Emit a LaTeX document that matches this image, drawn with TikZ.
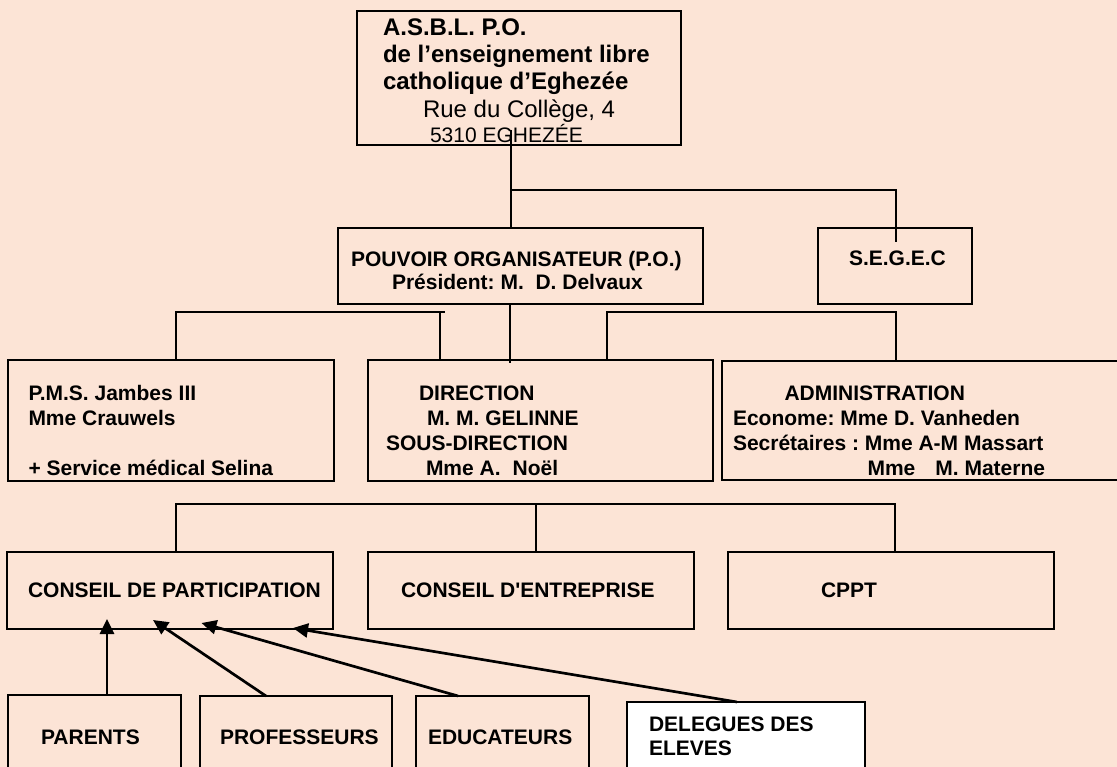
\documentclass[tikz,border=0pt]{standalone}
\usepackage{fontspec}
\setmainfont{Liberation Sans}
\usetikzlibrary{arrows.meta}
\definecolor{bgpeach}{RGB}{252,228,214}
\newcommand{\straightapos}{\XeTeXglyph\XeTeXcharglyph"0027\relax}
\tikzset{
  box/.style={draw=black, line width=1.8pt, inner sep=0pt, outer sep=0pt},
  conn/.style={draw=black, line width=1.6pt},
  arr/.style={draw=black, line width=2.7pt, -{Triangle[length=15pt,width=14pt]}},
  txt/.style={anchor=base west, inner sep=0pt, outer sep=0pt,
    font=\fontsize{21}{25}\selectfont\bfseries\frenchspacing},
  bigb/.style={txt, font=\fontsize{24}{28}\selectfont\bfseries\frenchspacing},
  bigr/.style={txt, font=\fontsize{24}{28}\selectfont\frenchspacing},
  medr/.style={txt, font=\fontsize{21}{25}\selectfont\frenchspacing},
}
\begin{document}
\begin{tikzpicture}[x=1pt,y=-1pt]
\useasboundingbox (0,0) rectangle (1117,767);
\clip (0,0) rectangle (1117,767);
\fill[bgpeach] (-5,-5) rectangle (1125,775);

% boxes
\node[box, minimum width=324, minimum height=134] (asbl) at (519,78) {};
\node[box, minimum width=365, minimum height=76] (po) at (520.5,266) {};
\node[box, minimum width=154, minimum height=76] (segec) at (895,266) {};
\node[box, minimum width=326, minimum height=121] (pms) at (171,420.5) {};
\node[box, minimum width=345, minimum height=121] (dir) at (540.5,420.5) {};
\node[box, minimum width=418, minimum height=119] (admin) at (931,420.5) {};
\node[box, minimum width=326, minimum height=77] (cdp) at (170,590.5) {};
\node[box, minimum width=326, minimum height=77] (cde) at (531,590.5) {};
\node[box, minimum width=326, minimum height=77] (cppt) at (891,590.5) {};
\node[box, minimum width=173, minimum height=95] (parents) at (94.5,742.5) {};
\node[box, minimum width=192, minimum height=94] (prof) at (296,743) {};
\node[box, minimum width=173, minimum height=94] (educ) at (502.5,743) {};
\node[box, fill=white, minimum width=238, minimum height=88] (deleg) at (746,746) {};

% texts
\node[bigb] (a1) at (383,36) {A.S.B.L. P.O.};
\node[bigb] (a2) at (383,63) {de l’enseignement libre};
\node[bigb] (a3) at (383,90) {catholique d’Eghezée};
\node[bigr] (a4) at (423,118) {Rue du Collège, 4};
\node[medr] (a5) at (430,143) {5310 EGHEZÉE};

\node[txt] (p1) at (351,266.5) {POUVOIR ORGANISATEUR (P.O.)};
\node[txt] (p2) at (392,290) {Président: M.\hspace{11.7pt}D. Delvaux};
\node[txt] (s1) at (849,266) {S.E.G.E.C};

\node[txt] (m1) at (28.5,400.5) {P.M.S. Jambes III};
\node[txt] (m2) at (28.5,425.5) {Mme Crauwels};
\node[txt] (m3) at (28.5,475.5) {+ Service médical Selina};

\node[txt] (d1) at (419,400.5) {DIRECTION};
\node[txt] (d2) at (427,425.5) {M. M. GELINNE};
\node[txt] (d3) at (386,450.5) {SOUS-DIRECTION};
\node[txt] (d4) at (426,475.5) {Mme A.\hspace{12pt}Noël};

\node[txt] (ad1) at (784.5,400.5) {ADMINISTRATION};
\node[txt] (ad2) at (733,425.5) {Econome: Mme D. Vanheden};
\node[txt] (ad3) at (733,450.5) {Secrétaires : Mme A-M Massart};
\node[txt] (ad4) at (867.5,475.5) {Mme\hspace{20pt}M. Materne};

\node[txt] (c1) at (28,597) {CONSEIL DE PARTICIPATION};
\node[txt] (c2) at (401,597) {CONSEIL D\straightapos ENTREPRISE};
\node[txt] (c3) at (821,597) {CPPT};

\node[txt] (b1) at (41,744) {PARENTS};
\node[txt] (b2) at (220,744) {PROFESSEURS};
\node[txt] (b3) at (428,744) {EDUCATEURS};
\node[txt] (b4) at (649,731.5) {DELEGUES DES};
\node[txt] (b5) at (649,755.5) {ELEVES};

% connectors level 1
\coordinate (j1) at (511,190);
\coordinate (j2) at (896,190);
\draw[conn] ([yshift=15pt]asbl.south -| j1) -- (j1 |- po.north);
\draw[conn] (j1) -- (j2) -- ([yshift=-14pt]j2 |- segec.north);

% connectors level 2
\coordinate (l1) at (176,312);
\coordinate (l2) at (440,312);
\coordinate (l3) at (445,312);
\coordinate (r1) at (607,312);
\coordinate (r2) at (896,312);
\coordinate (q1) at (510,304);
\draw[conn] (pms.north -| l1) -- (l1) -- (l3);
\draw[conn] (l2) -- (l2 |- dir.north);
\draw[conn] (dir.north -| r1) -- (r1) -- (r2) -- (r2 |- admin.north);
\draw[conn] (po.south -| q1) -- ([yshift=-3pt]q1 |- dir.north);

% connectors level 3
\coordinate (n1) at (176,504);
\coordinate (n2) at (536,504);
\coordinate (n3) at (895,504);
\draw[conn] (cdp.north -| n1) -- (n1) -- (n3) -- (n3 |- cppt.north);
\draw[conn] (n2) -- (n2 |- cde.north);

% arrows
\coordinate (t1) at (107,619);
\coordinate (t2) at (153,620);
\coordinate (t3) at (201.5,623);
\coordinate (t4) at (293,628);
\coordinate (u2) at (266,697);
\coordinate (u3) at (458,696);
\coordinate (u4) at (737,702);
\draw[arr] (parents.north -| t1) -- (t1);
\draw[arr] (prof.north -| u2) -- (t2);
\draw[arr] (educ.north -| u3) -- (t3);
\draw[arr] (deleg.north -| u4) -- (t4);
\end{tikzpicture}
\end{document}
